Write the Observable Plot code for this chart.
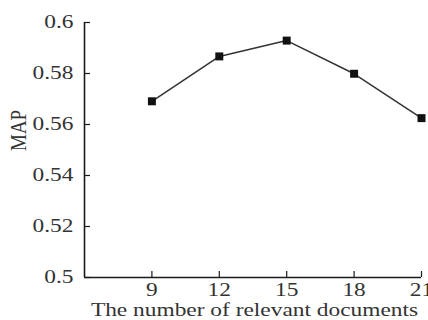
<!DOCTYPE html>
<html>
<head>
<meta charset="utf-8">
<script src="https://cdn.jsdelivr.net/npm/d3@7"></script>
<script src="https://cdn.jsdelivr.net/npm/@observablehq/plot@0.6"></script>
<style>
  html, body { margin: 0; padding: 0; background: #fff; }
</style>
</head>
<body>
<div id="chart"></div>
<script>
const docs = [9, 12, 15, 18, 21];
const mapValues = [0.5691, 0.5867, 0.5929, 0.5799, 0.5625];
const xTicks = [9, 12, 15, 18, 21];
const yTicks = [0.5, 0.52, 0.54, 0.56, 0.58, 0.6];
const xLabel = "The number of relevant documents";
const yLabel = "MAP";

const data = docs.map((d, i) => ({docs: d, map: mapValues[i]}));
const font = "'Liberation Serif', 'Times New Roman', serif";
const ink = "#1a1a1a";
const W = 428, H = 320, ML = 84, MR = 7, MT = 22, MB = 43;
const tickLen = 6;

const chart = Plot.plot({
  width: W,
  height: H,
  marginLeft: ML,
  marginRight: MR,
  marginTop: MT,
  marginBottom: MB,
  style: {fontFamily: font, fontSize: "18px", color: "#333", background: "#fff"},
  x: {domain: [6, 21]},
  y: {domain: [0.5, 0.6]},
  marks: [
    // inward tick marks
    Plot.tickX(xTicks, {x: d => d, insetTop: H - MT - MB - tickLen, stroke: ink, strokeWidth: 1.2}),
    Plot.tickY(yTicks, {y: d => d, insetRight: W - ML - MR - tickLen, stroke: ink, strokeWidth: 1.2}),
    // tick labels
    Plot.axisX({ticks: xTicks, tickSize: 0, tickPadding: 6, fill: "#333", label: null}),
    Plot.axisY({ticks: yTicks, tickSize: 0, tickPadding: 11, fill: "#333", label: null,
      tickFormat: d => String(+d.toFixed(2))}),
    // axis lines
    Plot.ruleX([6], {stroke: ink, strokeWidth: 1.6}),
    Plot.ruleY([0.5], {stroke: ink, strokeWidth: 1.6}),
    // axis titles
    Plot.text([xLabel], {frameAnchor: "bottom", dy: 33, dx: 1.5, lineAnchor: "middle", fill: "#333"}),
    Plot.text([yLabel], {frameAnchor: "left", dx: -66, dy: 1, rotate: -90, lineAnchor: "middle", fill: "#333", fontSize: 19}),
    // data
    Plot.line(data, {x: "docs", y: "map", stroke: "#333", strokeWidth: 1.5}),
    Plot.dot(data, {x: "docs", y: "map", symbol: "square", r: 4.5, fill: "#111", stroke: "none"})
  ]
});

// emulate the horizontally stretched type of the original picture
chart.querySelectorAll("text").forEach(t => {
  const x = t.getAttribute("x");
  let tr = t.getAttribute("transform") || "";
  if (x !== null) {
    tr += ` translate(${x},0)`;
    t.removeAttribute("x");
  }
  if (tr.includes("rotate")) tr += " scale(1,1.2)";
  else tr += " scale(1.3,1)";
  t.setAttribute("transform", tr.trim());
});

document.getElementById("chart").appendChild(chart);
</script>
</body>
</html>
